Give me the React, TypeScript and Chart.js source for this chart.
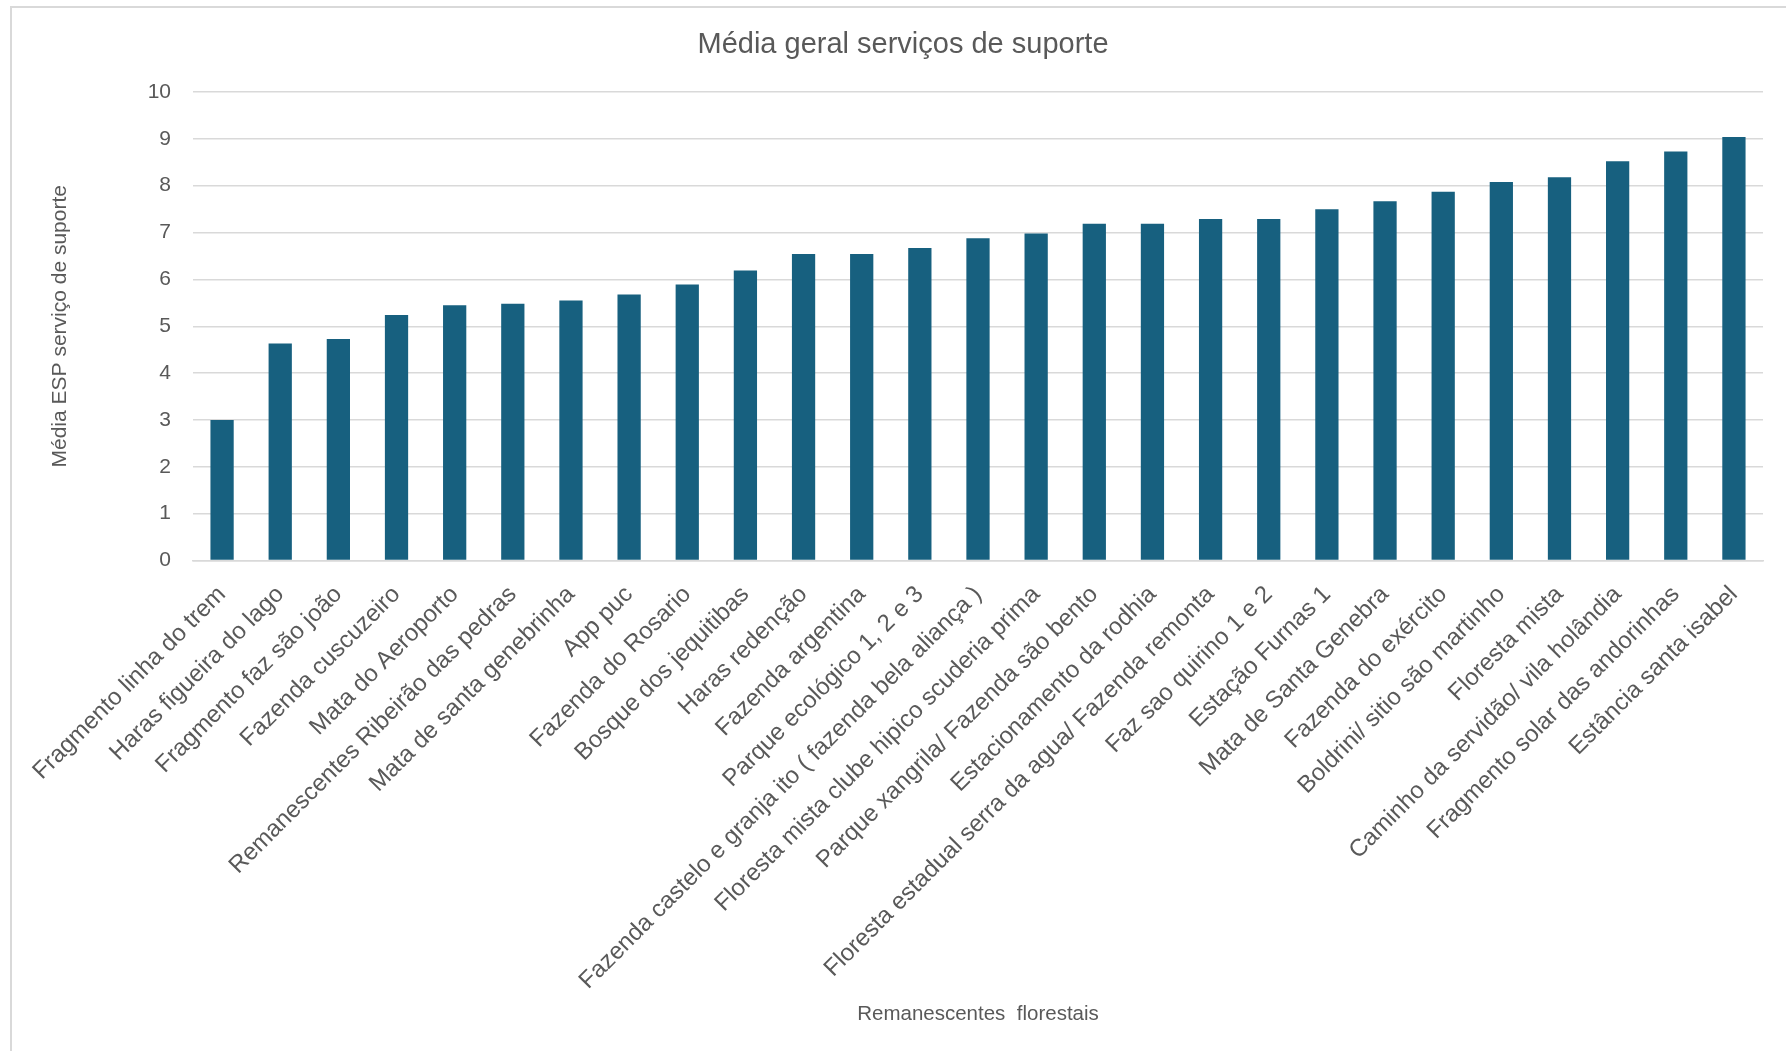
import React, { useEffect, useRef } from "react";
import { Chart, registerables } from "chart.js";

Chart.register(...registerables);

const TITLE = "Média geral serviços de suporte";
const Y_TITLE = "Média ESP serviço de suporte";
const X_TITLE = "Remanescentes  florestais";

const categories: string[] = [
  "Fragmento linha do trem",
  "Haras figueira do lago",
  "Fragmento faz são joão",
  "Fazenda cuscuzeiro",
  "Mata do Aeroporto",
  "Remanescentes Ribeirão das pedras",
  "Mata de santa genebrinha",
  "App puc",
  "Fazenda do Rosario",
  "Bosque dos jequitibas",
  "Haras redenção",
  "Fazenda argentina",
  "Parque ecológico 1, 2 e 3",
  "Fazenda castelo e granja ito ( fazenda bela aliança )",
  "Floresta mista clube hipico scuderia prima",
  "Parque xangrila/ Fazenda são bento",
  "Estacionamento da rodhia",
  "Floresta estadual serra da agua/ Fazenda remonta",
  "Faz sao quirino 1 e 2",
  "Estação Furnas 1",
  "Mata de Santa Genebra",
  "Fazenda do exército",
  "Boldrini/ sitio são martinho",
  "Floresta mista",
  "Caminho da servidão/ vila holândia",
  "Fragmento solar das andorinhas",
  "Estância santa isabel",
];

const values: number[] = [
  3.0, 4.63, 4.73, 5.24, 5.45, 5.48, 5.55, 5.68, 5.89, 6.19, 6.54, 6.54, 6.67,
  6.88, 6.98, 7.19, 7.19, 7.29, 7.29, 7.5, 7.67, 7.87, 8.08, 8.18, 8.52, 8.73,
  9.04,
];

const Y_MIN = 0;
const Y_MAX = 10;
const Y_STEP = 1;

const FONT = '"Liberation Sans", Arial, sans-serif';
const TEXT = "#595959";
const GRID = "#d9d9d9";
const BAR = "#17607f";

const W = 1786;
const H = 1051;

const titlePlugin = {
  id: "customTitle",
  afterDraw(chart: any) {
    const ctx = chart.ctx;
    ctx.save();
    ctx.font = `29px ${FONT}`;
    ctx.fillStyle = TEXT;
    ctx.textAlign = "center";
    ctx.textBaseline = "alphabetic";
    ctx.fillText(TITLE, chart.width / 2 + 10, 53);
    ctx.restore();
  },
};

export default function App() {
  const ref = useRef<HTMLCanvasElement | null>(null);

  useEffect(() => {
    document.body.style.overflow = "hidden";
    const canvas = ref.current;
    if (!canvas) return;
    const chart = new Chart(canvas, {
      type: "bar",
      data: {
        labels: categories,
        datasets: [
          {
            data: values,
            backgroundColor: BAR,
            barPercentage: 0.4,
            categoryPercentage: 1,
          },
        ],
      },
      options: {
        responsive: false,
        animation: false,
        layout: { padding: { top: 92, left: 28, right: 23, bottom: 0 } },
        plugins: {
          legend: { display: false },
          tooltip: { enabled: false },
          title: { display: false },
        },
        scales: {
          x: {
            grid: { display: false },
            border: { display: true, color: GRID, width: 1.5 },
            ticks: {
              autoSkip: false,
              minRotation: 45,
              maxRotation: 45,
              color: TEXT,
              font: { family: FONT, size: 24 },
              padding: 12,
            },
            title: {
              display: true,
              text: X_TITLE,
              color: TEXT,
              font: { family: FONT, size: 20.5 },
              padding: { top: 0, bottom: 24 },
            },
            afterFit: (s: any) => {
              s.height = H - 560.5;
            },
          },
          y: {
            min: Y_MIN,
            max: Y_MAX,
            grid: { color: GRID, lineWidth: 1.5, drawTicks: false },
            border: { display: false },
            ticks: {
              stepSize: Y_STEP,
              color: TEXT,
              font: { family: FONT, size: 21 },
              padding: 22,
            },
            title: {
              display: true,
              text: Y_TITLE,
              color: TEXT,
              font: { family: FONT, size: 21 },
              padding: { top: 20, bottom: 0 },
            },
            afterFit: (s: any) => {
              s.width = 165;
            },
          },
        },
      },
      plugins: [titlePlugin],
    });
    return () => chart.destroy();
  }, []);

  return (
    <div style={{ position: "absolute", left: 0, top: 0, width: W, height: H, background: "#fff" }}>
      <canvas ref={ref} width={W} height={H} style={{ display: "block" }} />
      <div
        style={{
          position: "absolute",
          left: 10,
          top: 6,
          right: 0,
          bottom: 0,
          borderTop: `2px solid ${GRID}`,
          borderLeft: `2px solid ${GRID}`,
          pointerEvents: "none",
        }}
      />
    </div>
  );
}
